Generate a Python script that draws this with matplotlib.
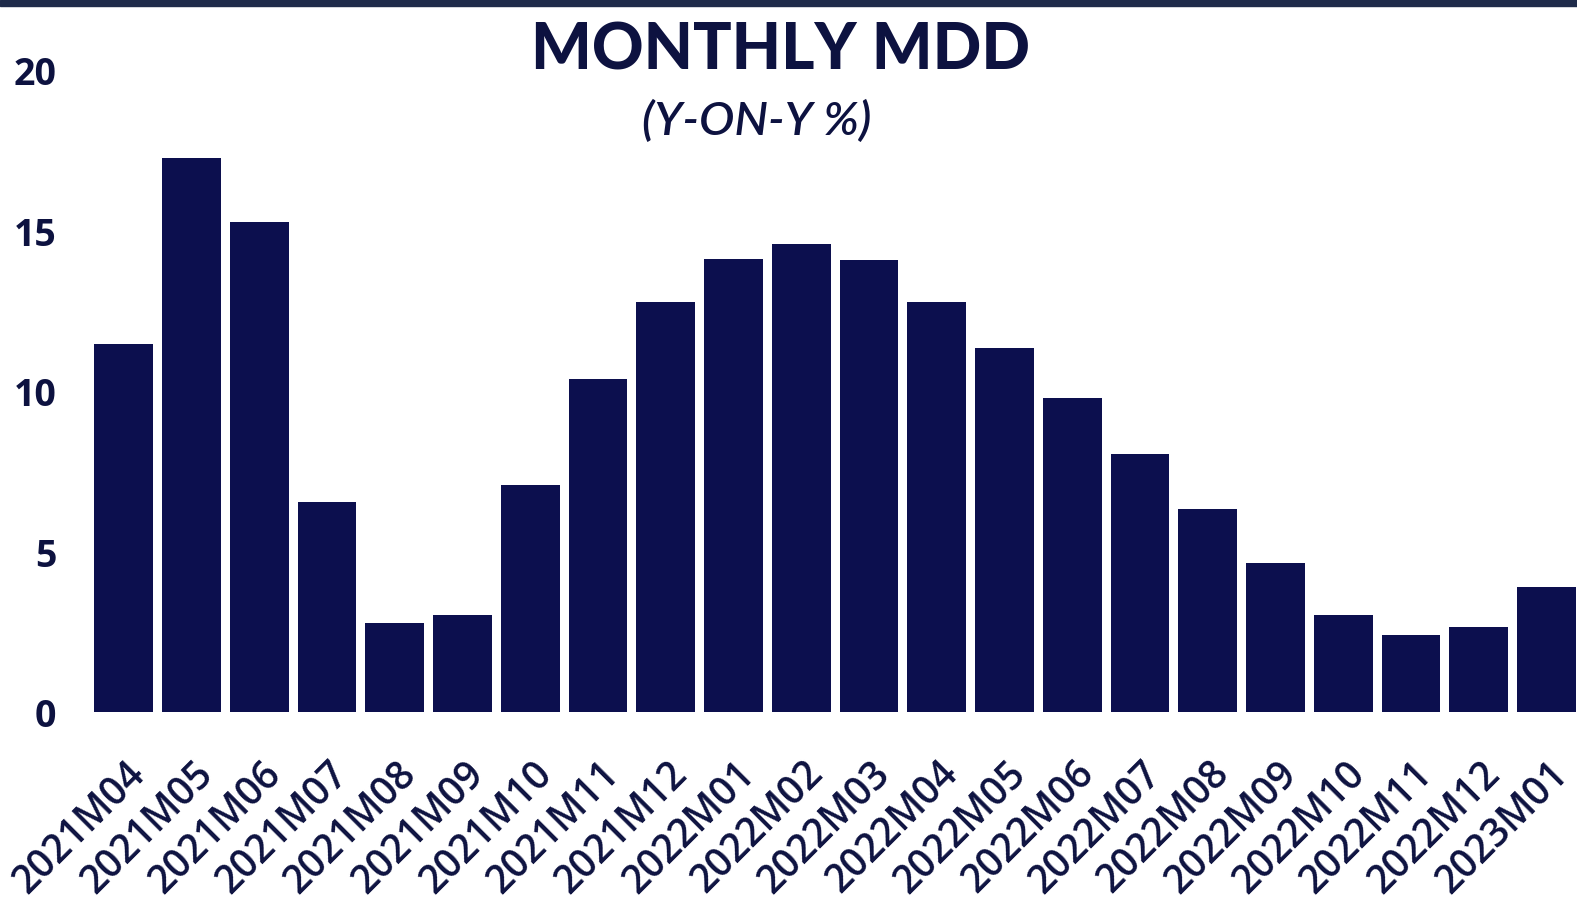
import matplotlib.pyplot as plt
from matplotlib.transforms import ScaledTranslation

months = ['2021M04', '2021M05', '2021M06', '2021M07', '2021M08', '2021M09',
          '2021M10', '2021M11', '2021M12', '2022M01', '2022M02', '2022M03',
          '2022M04', '2022M05', '2022M06', '2022M07', '2022M08', '2022M09',
          '2022M10', '2022M11', '2022M12', '2023M01']
mdd_yoy = [11.5, 17.3, 15.3, 6.55, 2.8, 3.05,
           7.1, 10.4, 12.8, 14.15, 14.6, 14.1,
           12.8, 11.35, 9.8, 8.05, 6.35, 4.65,
           3.05, 2.4, 2.65, 3.9]
y_ticks = [0, 5, 10, 15, 20]

navy = '#0c0f4e'
text_col = '#0d1240'

fig = plt.figure(figsize=(15.77, 9.21), dpi=100)
fig.patch.set_facecolor('white')

# dark stripe along the top edge
fig.add_artist(plt.Rectangle((0, 0.993), 1, 0.007, transform=fig.transFigure,
                             color='#1f2b4a', zorder=5))

ax = fig.add_axes([0.057, 0.2265, 0.943, 0.6965])
x = range(len(months))
ax.bar(x, mdd_yoy, width=0.87, color=navy)

ax.set_xlim(-0.5, len(months) - 0.55)
ax.set_ylim(0, 20)
ax.set_yticks(y_ticks)
ax.set_yticklabels([str(t) for t in y_ticks], fontsize=27, fontweight='bold',
                   color=text_col, family='Open Sans')
ax.tick_params(axis='y', length=0, pad=24)

ax.set_xticks(list(x))
ax.set_xticklabels(months, rotation=45, ha='right', fontsize=28,
                   color=text_col, family='Open Sans', fontweight='semibold')
ax.tick_params(axis='x', length=0, pad=30)
offset = ScaledTranslation(30 / 100, 0, fig.dpi_scale_trans)
for lbl in ax.get_xticklabels():
    lbl.set_transform(lbl.get_transform() + offset)

for s in ax.spines.values():
    s.set_visible(False)

fig.text(0.495, 0.945, 'MONTHLY MDD', ha='center', va='center', fontsize=46,
         fontweight='black', color=text_col, family='Lato')
fig.text(0.48, 0.868, '(Y-ON-Y %)', ha='center', va='center', fontsize=34,
         style='italic', fontweight='semibold', color=text_col, family='Lato')

fig.savefig('out.png', dpi=100, facecolor='white')
